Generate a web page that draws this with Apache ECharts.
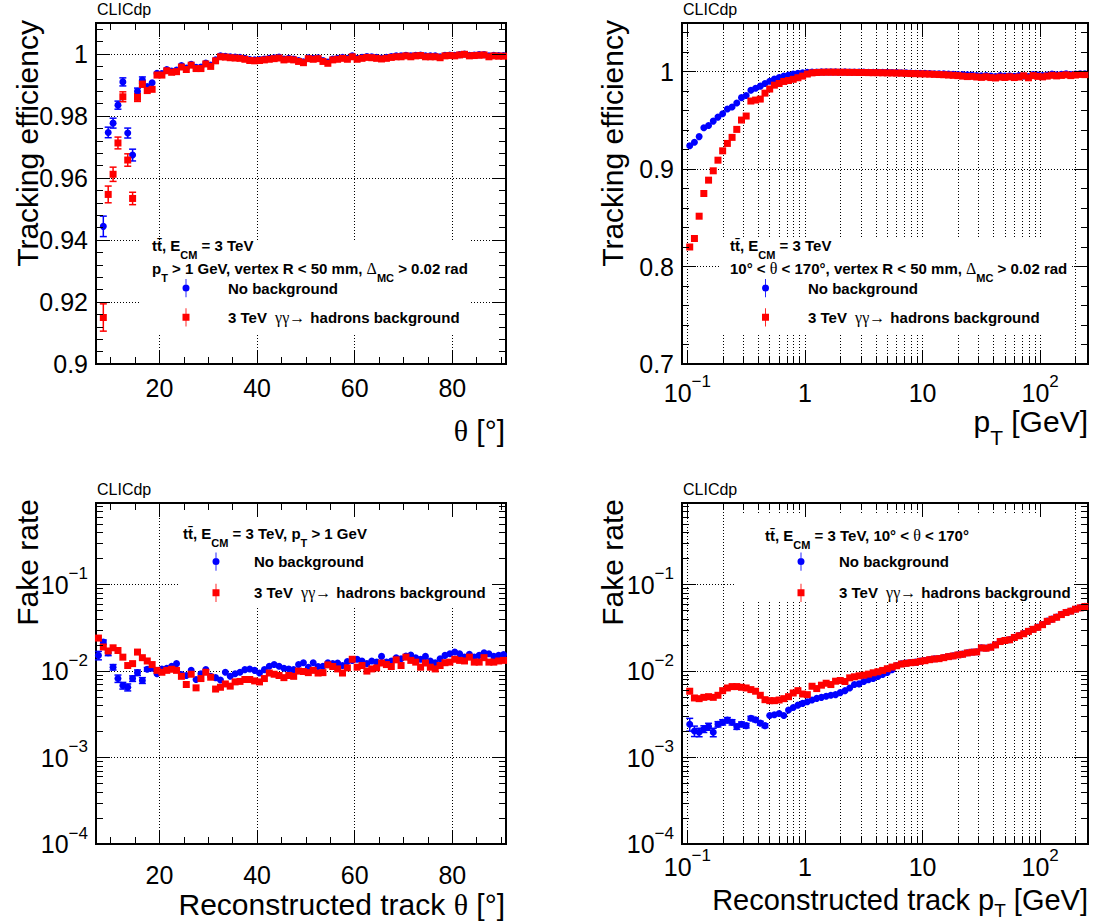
<!DOCTYPE html>
<html>
<head>
<meta charset="utf-8">
<script src="https://cdn.jsdelivr.net/npm/echarts@6/dist/echarts.min.js"></script>
<style>html,body{margin:0;padding:0;background:#fff;}#c{width:1095px;height:923px;}</style>
</head>
<body>
<div id="c"></div>
<script>
// ---------------- DATA ----------------
const NAME_NB = 'No background';
const NAME_BG = '3 TeV γγ→ hadrons background';

const thetaBins = [7.5,8.5,9.5,10.5,11.5,12.5,13.5,14.5,15.5,16.5,17.5,18.5,19.5,20.5,21.5,22.5,23.5,24.5,25.5,26.5,27.5,28.5,29.5,30.5,31.5,32.5,33.5,34.5,35.5,36.5,37.5,38.5,39.5,40.5,41.5,42.5,43.5,44.5,45.5,46.5,47.5,48.5,49.5,50.5,51.5,52.5,53.5,54.5,55.5,56.5,57.5,58.5,59.5,60.5,61.5,62.5,63.5,64.5,65.5,66.5,67.5,68.5,69.5,70.5,71.5,72.5,73.5,74.5,75.5,76.5,77.5,78.5,79.5,80.5,81.5,82.5,83.5,84.5,85.5,86.5,87.5,88.5,89.5,90.5];

const ptBins = [0.1047,0.1148,0.1259,0.1380,0.1514,0.1660,0.1820,0.1995,0.2188,0.2399,
0.2630,0.2884,0.3162,0.3467,0.3802,0.4169,0.4571,0.5012,0.5495,0.6026,
0.6607,0.7244,0.7943,0.8710,0.9550,1.047,1.148,1.259,1.380,1.514,
1.660,1.820,1.995,2.188,2.399,2.630,2.884,3.162,3.467,3.802,
4.169,4.571,5.012,5.495,6.026,6.607,7.244,7.943,8.710,9.550,
10.47,11.48,12.59,13.80,15.14,16.60,18.20,19.95,21.88,23.99,
26.30,28.84,31.62,34.67,38.02,41.69,45.71,50.12,54.95,60.26,
66.07,72.44,79.43,87.10,95.50,104.7,114.8,125.9,138.0,151.4,
166.0,182.0,199.5,218.8,239.9];

// Tracking efficiency vs theta
const effThetaNoBg = [null,
0.9444,0.9747,0.9777,0.9835,0.9910,0.9745,0.9674,0.9880,0.9916,0.9895,
0.9907,0.9938,0.9937,0.9950,0.9945,0.9948,0.9963,0.9955,0.9967,0.9957,
0.9958,0.9971,0.9964,0.9981,0.9994,0.9993,0.9991,0.9990,0.9989,0.9986,
0.9982,0.9981,0.9982,0.9984,0.9986,0.9988,0.9990,0.9984,0.9986,0.9984,
0.9979,0.9975,0.9988,0.9986,0.9988,0.9979,0.9974,0.9984,0.9986,0.9989,
0.9986,0.9994,0.9986,0.9989,0.9992,0.9991,0.9989,0.9987,0.9989,0.9992,
0.9994,0.9994,0.9996,0.9994,0.9996,0.9997,0.9994,0.9994,0.9994,0.9991,
0.9996,0.9997,0.9996,0.9998,1.0000,0.9996,0.9997,0.9998,0.9998,0.9994,
0.9996,0.9995,0.9995];
const effThetaBg = [null,
0.9150,0.9547,0.9612,0.9713,0.9862,0.9658,0.9534,0.9860,0.9903,0.9882,
0.9886,0.9932,0.9932,0.9946,0.9941,0.9943,0.9958,0.9950,0.9964,0.9953,
0.9953,0.9968,0.9960,0.9978,0.9991,0.9990,0.9988,0.9987,0.9986,0.9983,
0.9979,0.9978,0.9979,0.9981,0.9983,0.9985,0.9987,0.9981,0.9983,0.9981,
0.9976,0.9972,0.9985,0.9983,0.9985,0.9976,0.9970,0.9981,0.9983,0.9986,
0.9983,0.9991,0.9983,0.9986,0.9989,0.9988,0.9986,0.9984,0.9986,0.9989,
0.9991,0.9991,0.9994,0.9991,0.9994,0.9995,0.9991,0.9991,0.9991,0.9988,
0.9994,0.9995,0.9994,0.9997,0.9999,0.9994,0.9995,0.9996,0.9997,0.9991,
0.9994,0.9993,0.9993];
const effThetaNoBgErr = [0,0.0033,0.0017,0.0016,0.0013,0.0013,0.0016,0.0019,0.0010,0.0010];
const effThetaBgErr = [0,0.0044,0.0027,0.0023,0.0019,0.0016,0.0020,0.0020,0.0013,0.0010];

// Tracking efficiency vs pT
const effPtNoBg = [
0.9241,0.9276,0.9334,0.9424,0.9448,0.9493,0.9534,0.9569,0.9617,0.9638,
0.9679,0.9734,0.9755,0.9810,0.9831,0.9852,0.9879,0.9903,0.9924,0.9941,
0.9955,0.9966,0.9976,0.9983,0.9990,0.9993,0.9996,0.9997,0.9998,0.9998,
0.9998,0.9998,0.9997,0.9998,0.9997,0.9997,0.9996,0.9996,0.9995,0.9995,
0.9994,0.9993,0.9993,0.9992,0.9991,0.9990,0.9989,0.9986,0.9985,0.9984,
0.9983,0.9982,0.9980,0.9979,0.9978,0.9976,0.9974,0.9972,0.9970,0.9968,
0.9965,0.9962,0.9958,0.9962,0.9955,0.9950,0.9960,0.9955,0.9958,0.9953,
0.9960,0.9957,0.9950,0.9972,0.9965,0.9960,0.9967,0.9975,0.9968,0.9973,
0.9978,0.9970,0.9975,0.9980,0.9978];
const effPtBg = [
0.8201,0.8288,0.8517,0.8750,0.8887,0.8983,0.9092,0.9188,0.9264,0.9326,
0.9408,0.9504,0.9545,0.9699,0.9709,0.9719,0.9780,0.9822,0.9862,0.9879,
0.9900,0.9910,0.9922,0.9938,0.9955,0.9976,0.9988,0.9992,0.9994,0.9995,
0.9995,0.9995,0.9994,0.9994,0.9993,0.9993,0.9992,0.9992,0.9991,0.9990,
0.9990,0.9989,0.9988,0.9987,0.9986,0.9985,0.9983,0.9981,0.9980,0.9978,
0.9977,0.9975,0.9973,0.9971,0.9969,0.9966,0.9963,0.9960,0.9955,0.9950,
0.9952,0.9946,0.9942,0.9948,0.9940,0.9936,0.9945,0.9941,0.9948,0.9940,
0.9946,0.9958,0.9938,0.9960,0.9952,0.9947,0.9955,0.9963,0.9957,0.9962,
0.9968,0.9960,0.9966,0.9972,0.9970];

// Fake rate vs theta
const fakeThetaNoBg = [
0.0152,0.0217,0.0163,0.0111,0.0082,0.0068,0.0065,0.0082,0.0096,0.0078,
0.0105,0.0108,0.0093,0.0106,0.0108,0.0114,0.0122,0.0091,0.0089,0.0102,
0.0080,0.0093,0.0104,0.0087,0.0084,0.0079,0.0097,0.0087,0.0093,0.0097,
0.0104,0.0106,0.0102,0.0095,0.0104,0.0114,0.0119,0.0114,0.0108,0.0106,
0.0104,0.0119,0.0125,0.0111,0.0125,0.0113,0.0114,0.0125,0.0122,0.0124,
0.0116,0.0129,0.0133,0.0137,0.0131,0.0122,0.0131,0.0127,0.0148,0.0127,
0.0131,0.0143,0.0139,0.0149,0.0153,0.0143,0.0137,0.0148,0.0131,0.0125,
0.0139,0.0152,0.0159,0.0166,0.0159,0.0145,0.0156,0.0145,0.0152,0.0163,
0.0159,0.0148,0.0152,0.0155];
const fakeThetaBg = [
0.0241,0.0190,0.0171,0.0186,0.0173,0.0145,0.0116,0.0122,0.0166,0.0143,
0.0131,0.0119,0.0102,0.0097,0.0102,0.0105,0.0102,0.0087,0.0070,0.0092,
0.0064,0.0082,0.0097,0.0085,0.0062,0.0065,0.0071,0.0067,0.0075,0.0076,
0.0080,0.0080,0.0077,0.0075,0.0082,0.0095,0.0092,0.0089,0.0084,0.0089,
0.0087,0.0100,0.0099,0.0096,0.0102,0.0095,0.0096,0.0118,0.0113,0.0106,
0.0095,0.0109,0.0137,0.0111,0.0116,0.0100,0.0106,0.0109,0.0124,0.0119,
0.0113,0.0135,0.0116,0.0145,0.0133,0.0127,0.0111,0.0124,0.0111,0.0106,
0.0116,0.0125,0.0127,0.0137,0.0133,0.0131,0.0145,0.0127,0.0127,0.0143,
0.0127,0.0127,0.0131,0.0133];
const fakeThetaNoBgErr = [0.0017,0.0012,0.0012,0.0008,0.0008,0.0006,0.0006,0.0006,0.0007,0.0006,0.0005];

// Fake rate vs pT
const fakePtNoBg = [
0.00243,0.00203,0.00196,0.00214,0.00228,0.00196,0.00243,0.00256,0.00271,0.00256,
0.00228,0.00243,0.00234,0.00285,0.00273,0.00250,0.00234,0.00306,0.00312,0.00324,
0.00306,0.00354,0.00380,0.00404,0.00423,0.00443,0.00463,0.00484,0.00497,0.00511,
0.00525,0.00534,0.00564,0.00594,0.00638,0.00699,0.00712,0.00758,0.00793,0.00822,
0.00867,0.00914,0.00965,0.01036,0.01160,0.01215,0.01236,0.01258,0.01270,0.01305,
0.01328,0.01362,0.01388,0.01400,0.01438,0.01478,0.01505,0.01546,0.01573,0.01630,
0.01660,0.01676,0.01864,0.01846,0.01898,0.02020,0.02209,0.02271,0.02313,0.02462,
0.02578,0.02716,0.02894,0.03055,0.03224,0.03463,0.03783,0.03994,0.04215,0.04528,
0.04782,0.04957,0.05225,0.05418,0.05617];
const fakePtBg = [
0.00585,0.00489,0.00480,0.00497,0.00506,0.00497,0.00525,0.00594,0.00638,0.00662,
0.00662,0.00650,0.00638,0.00611,0.00585,0.00525,0.00467,0.00455,0.00455,0.00463,
0.00480,0.00506,0.00558,0.00594,0.00543,0.00534,0.00668,0.00628,0.00687,0.00724,
0.00699,0.00764,0.00778,0.00758,0.00836,0.00859,0.00882,0.00898,0.00923,0.00956,
0.00982,0.01018,0.01065,0.01113,0.01154,0.01207,0.01229,0.01251,0.01262,0.01297,
0.01320,0.01356,0.01380,0.01393,0.01430,0.01470,0.01497,0.01538,0.01565,0.01622,
0.01652,0.01667,0.01855,0.01837,0.01888,0.02010,0.02198,0.02260,0.02302,0.02450,
0.02565,0.02703,0.02880,0.03040,0.03208,0.03446,0.03764,0.03974,0.04194,0.04506,
0.04758,0.04932,0.05199,0.05391,0.05589];
const fakePtNoBgErr = [0.00041,0.00028,0.00022,0.00019,0.00021,0.00022,0.00017,0.00018,0.00019,0.00018,0.00016,0.00015,0.00014,0.00015,0.00014,0.00013,0.00012];

// Ticks and labels
const thetaMajor = [20,40,60,80];
const thetaLabels = ['20','40','60','80'];
const thetaMinor = [10,15,25,30,35,45,50,55,65,70,75,85,90];

const effThetaMajor = [0.9,0.92,0.94,0.96,0.98,1.0];
const effThetaLabels = ['0.9','0.92','0.94','0.96','0.98','1'];
const effThetaMinor = [0.904,0.908,0.912,0.916,0.924,0.928,0.932,0.936,0.944,0.948,0.952,0.956,0.964,0.968,0.972,0.976,0.984,0.988,0.992,0.996,1.004,1.008];

const effPtMajor = [0.7,0.8,0.9,1.0];
const effPtLabels = ['0.7','0.8','0.9','1'];
const effPtMinor = [0.72,0.74,0.76,0.78,0.82,0.84,0.86,0.88,0.92,0.94,0.96,0.98,1.02,1.04];

const ptMajor = [0.1,1,10,100];
const ptLabels = ['{b|10}{s|−1}','{b|1}','{b|10}','{b|10}{s|2}'];
const ptMinor = [0.2,0.3,0.4,0.5,0.6,0.7,0.8,0.9,2,3,4,5,6,7,8,9,20,30,40,50,60,70,80,90,200];
const ptGrid = [0.1,0.2,0.3,0.4,0.5,0.6,0.7,0.8,0.9,1,2,3,4,5,6,7,8,9,10,20,30,40,50,60,70,80,90,100,200];

const fakeMajor = [0.0001,0.001,0.01,0.1];
const fakeLabels = ['{b|10}{s|−4}','{b|10}{s|−3}','{b|10}{s|−2}','{b|10}{s|−1}'];
const fakeMinor = [0.0002,0.0003,0.0004,0.0005,0.0006,0.0007,0.0008,0.0009,0.002,0.003,0.004,0.005,0.006,0.007,0.008,0.009,0.02,0.03,0.04,0.05,0.06,0.07,0.08,0.09,0.2,0.3,0.4,0.5,0.6,0.7,0.8];

// ---------------- STYLE HELPERS ----------------
const SANS = '"Liberation Sans", Arial, Helvetica, sans-serif';
const SERIF = '"Liberation Serif", "DejaVu Serif", serif';
const BLUE = '#0000ff', RED = '#ff0000';
const TICK = {color:'#000', width:1};
const GRIDLINE = {color:'#000', width:1, type:[1,2]};
const LBL = 25;

function xLinLabel(margin){ return {fontFamily:SANS, fontSize:LBL, lineHeight:25, color:'#000', margin:margin}; }
function yLinLabel(margin){ return {fontFamily:SANS, fontSize:LBL, color:'#000', margin:margin}; }
function xLogLabel(margin){ return {fontFamily:SANS, fontSize:LBL, color:'#000', margin:margin,
  rich:{ b:{fontFamily:SANS, fontSize:LBL, lineHeight:24, color:'#000', padding:[7,0,0,0], verticalAlign:'top'},
         s:{fontFamily:SANS, fontSize:17, lineHeight:17, color:'#000', verticalAlign:'top'} } }; }
function yLogLabel(margin){ return {fontFamily:SANS, fontSize:LBL, color:'#000', margin:margin,
  rich:{ b:{fontFamily:SANS, fontSize:LBL, color:'#000', padding:[7,0,7,0]},
         s:{fontFamily:SANS, fontSize:17, color:'#000', verticalAlign:'top'} } }; }

function axesFor(dim, gi, type, min, max, major, minor, gridVals, labels, labelStyle){
  const pos = dim === 'x' ? ['bottom','top'] : ['left','right'];
  const fmt = function(v){
    for (let i = 0; i < major.length; i++) if (Math.abs(v - major[i]) <= Math.abs(major[i]) * 1e-6) return labels[i];
    return '';
  };
  function base(p, z){
    const a = {gridIndex:gi, type:type, min:min, max:max, position:p, silent:true, z:z,
      axisLine:{show:false, onZero:false}, splitLine:{show:false}, axisLabel:{show:false}, axisTick:{show:false}, splitArea:{show:false}, minorTick:{show:false}, minorSplitLine:{show:false}};
    if (type === 'log') a.logBase = 10;
    return a;
  }
  const a0 = base(pos[0], 0);
  a0.axisTick = {show:false, customValues:gridVals};
  a0.splitLine = {show:true, customValues:gridVals, lineStyle:GRIDLINE};
  const a1 = base(pos[0], 5);
  a1.axisTick = {show:true, inside:true, length:14, customValues:major, lineStyle:TICK};
  a1.axisLabel = Object.assign({show:true, customValues:major, formatter:fmt}, labelStyle);
  const a2 = base(pos[0], 5);
  a2.axisTick = {show:true, inside:true, length:7, customValues:minor, lineStyle:TICK};
  const a3 = base(pos[1], 5);
  a3.axisTick = {show:true, inside:true, length:14, customValues:major, lineStyle:TICK};
  const a4 = base(pos[1], 5);
  a4.axisTick = {show:true, inside:true, length:7, customValues:minor, lineStyle:TICK};
  return [a0, a1, a2, a3, a4];
}

const xAxes = [].concat(
  axesFor('x', 0, 'value', 7, 91, thetaMajor, thetaMinor, thetaMajor, thetaLabels, xLinLabel(11)),
  axesFor('x', 1, 'log', 0.09, 255, ptMajor, ptMinor, ptGrid, ptLabels, xLogLabel(9)),
  axesFor('x', 2, 'value', 7, 91, thetaMajor, thetaMinor, thetaMajor, thetaLabels, xLinLabel(18)),
  axesFor('x', 3, 'log', 0.09, 255, ptMajor, ptMinor, ptGrid, ptLabels, xLogLabel(3))
);
const yAxes = [].concat(
  axesFor('y', 0, 'value', 0.9, 1.01, effThetaMajor, effThetaMinor, effThetaMajor, effThetaLabels, yLinLabel(8)),
  axesFor('y', 1, 'value', 0.7, 1.05, effPtMajor, effPtMinor, effPtMajor, effPtLabels, yLinLabel(8)),
  axesFor('y', 2, 'log', 0.0001, 0.88, fakeMajor, fakeMinor, fakeMajor, fakeLabels, yLogLabel(8)),
  axesFor('y', 3, 'log', 0.0001, 0.88, fakeMajor, fakeMinor, fakeMajor, fakeLabels, yLogLabel(8))
);

function pts(xs, ys){ const o = []; for (let i = 0; i < xs.length; i++) if (ys[i] != null) o.push([xs[i], ys[i]]); return o; }
function errs(xs, ys, es){ const o = []; for (let i = 0; i < es.length; i++) if (es[i] && ys[i] != null) o.push([xs[i], ys[i] - es[i], ys[i] + es[i]]); return o; }

function errSeries(ai, data, color){
  return {type:'custom', xAxisIndex:ai, yAxisIndex:ai, data:data, silent:true, z:2, animation:false,
    encode:{x:0, y:[1,2]},
    renderItem:function(params, api){
      const x = api.value(0);
      const a = api.coord([x, api.value(1)]);
      const b = api.coord([x, api.value(2)]);
      const w = 3.5, st = {stroke:color, lineWidth:1.5};
      return {type:'group', children:[
        {type:'line', shape:{x1:a[0], y1:a[1], x2:b[0], y2:b[1]}, style:st},
        {type:'line', shape:{x1:a[0]-w, y1:a[1], x2:a[0]+w, y2:a[1]}, style:st},
        {type:'line', shape:{x1:b[0]-w, y1:b[1], x2:b[0]+w, y2:b[1]}, style:st}
      ]};
    }};
}
function scat(ai, name, data, color, symbol){
  return {type:'scatter', name:name, xAxisIndex:ai, yAxisIndex:ai, data:data, symbol:symbol, symbolSize:7,
    itemStyle:{color:color, opacity:1}, silent:true, z:2, animation:false, emphasis:{disabled:true}};
}

const panels = [
  {xs:thetaBins, nb:effThetaNoBg, bg:effThetaBg, nbErr:effThetaNoBgErr, bgErr:effThetaBgErr},
  {xs:ptBins, nb:effPtNoBg, bg:effPtBg, nbErr:[], bgErr:[]},
  {xs:thetaBins, nb:fakeThetaNoBg, bg:fakeThetaBg, nbErr:fakeThetaNoBgErr, bgErr:[]},
  {xs:ptBins, nb:fakePtNoBg, bg:fakePtBg, nbErr:fakePtNoBgErr, bgErr:[]}
];
const series = [];
panels.forEach(function(p, g){
  const ai = g * 5 + 1;
  series.push(errSeries(ai, errs(p.xs, p.nb, p.nbErr), BLUE));
  series.push(scat(ai, NAME_NB, pts(p.xs, p.nb), BLUE, 'circle'));
  series.push(errSeries(ai, errs(p.xs, p.bg, p.bgErr), RED));
  series.push(scat(ai, NAME_BG, pts(p.xs, p.bg), RED, 'rect'));
});

const ICON_C = 'path://M4.4,0H5.6V26H4.4Z M0,13A5,5 0 1 1 10,13A5,5 0 1 1 0,13Z';
const ICON_S = 'path://M4.4,0H5.6V26H4.4Z M0,8H10V18H0Z';
function mkLegend(left, top, gap, pad){
  return {show:true, orient:'vertical', left:left, top:top, itemGap:gap, itemWidth:7, itemHeight:19, padding:0,
    selectedMode:false, z:4,
    data:[{name:NAME_NB, icon:ICON_C}, {name:NAME_BG, icon:ICON_S}],
    formatter:function(n){ return n === NAME_BG ? '3 TeV {g|γγ→} hadrons background' : n; },
    textStyle:{fontFamily:SANS, fontWeight:'bold', fontSize:15, color:'#000', padding:[0,0,0,pad],
      rich:{g:{fontFamily:SERIF, fontWeight:'normal', fontSize:16, color:'#000', padding:[0,1,0,4]}}}};
}

const headRich = {
  b:{fontFamily:SANS, fontWeight:'bold', fontSize:15, fill:'#000', lineHeight:18},
  s:{fontFamily:SANS, fontWeight:'bold', fontSize:11, fill:'#000', lineHeight:11, padding:[19,0,0,0]},
  g:{fontFamily:SERIF, fontWeight:'normal', fontSize:16, fill:'#000', lineHeight:18}
};
const titleRich = {
  m:{fontFamily:SANS, fontSize:30, fill:'#000', lineHeight:28, verticalAlign:'top'},
  g:{fontFamily:SERIF, fontSize:30, fill:'#000', lineHeight:28, verticalAlign:'top'},
  s:{fontFamily:SANS, fontSize:21, fill:'#000', lineHeight:19, padding:[20,0,0,0], verticalAlign:'top'}
};
const titleRichBR = {
  m:{fontFamily:SANS, fontSize:29, fill:'#000', lineHeight:28, verticalAlign:'top'},
  s:{fontFamily:SANS, fontSize:19, fill:'#000', lineHeight:17, padding:[16,0,0,0], verticalAlign:'top'}
};
function txt(x, y, text, o){
  o = o || {};
  return {type:'text', x:x, y:y, rotation:o.rot || 0, z:10, silent:true,
    style:{text:text, fill:'#000', fontFamily:o.family || SANS, fontSize:o.size || 15, fontWeight:o.weight || 'normal',
      lineHeight:o.lh, align:o.align || 'left', verticalAlign:o.va || 'middle', rich:o.rich}};
}
function box(x, y, w, h){ return {type:'rect', shape:{x:x, y:y, width:w, height:h}, style:{fill:'#fff'}, z:1, silent:true}; }

const H1 = '{b|tt̄, E}{s|CM}{b| = 3 TeV}';
const graphics = [
  box(140, 240, 330, 93), box(720, 238, 350, 95), box(178, 505, 322, 103), box(735, 515, 340, 85),
  txt(97, 9, 'CLICdp', {size:16}), txt(683, 9, 'CLICdp', {size:16}), txt(97, 489, 'CLICdp', {size:16}), txt(683, 489, 'CLICdp', {size:16}),
  txt(152, 245, H1, {rich:headRich}),
  txt(152, 268, '{b|p}{s|T}{b| > 1 GeV, vertex R < 50 mm, }{g|Δ}{s|MC}{b| > 0.02 rad}', {rich:headRich}),
  txt(730, 245, H1, {rich:headRich}),
  txt(730, 268, '{b|10° < }{g|θ}{b| < 170°, vertex R < 50 mm, }{g|Δ}{s|MC}{b| > 0.02 rad}', {rich:headRich}),
  txt(183, 533, '{b|tt̄, E}{s|CM}{b| = 3 TeV, p}{s|T}{b| > 1 GeV}', {rich:headRich}),
  txt(765, 535, '{b|tt̄, E}{s|CM}{b| = 3 TeV, 10° < }{g|θ}{b| < 170°}', {rich:headRich}),
  txt(505, 415, '{g|θ}{m| [°]}', {size:30, align:'right', va:'top', rich:titleRich}),
  txt(1088, 406.5, '{m|p}{s|T}{m| [GeV]}', {size:30, align:'right', va:'top', rich:titleRich}),
  txt(505, 889, '{m|Reconstructed track }{g|θ}{m| [°]}', {size:30, align:'right', va:'top', rich:titleRich}),
  txt(1088, 885, '{m|Reconstructed track p}{s|T}{m| [GeV]}', {size:29, align:'right', va:'top', rich:titleRichBR}),
  txt(27, 20, 'Tracking efficiency', {size:30, align:'right', rot:Math.PI/2}),
  txt(612, 20, 'Tracking efficiency', {size:30, align:'right', rot:Math.PI/2}),
  txt(27, 499, 'Fake rate', {size:30, align:'right', rot:Math.PI/2}),
  txt(612, 499, 'Fake rate', {size:30, align:'right', rot:Math.PI/2})
];

const grids = [
  {left:96, top:23, width:410, height:341},
  {left:682, top:23, width:406, height:341},
  {left:96, top:503, width:410, height:341},
  {left:682, top:503, width:406, height:341}
].map(function(g){ return Object.assign({show:true, borderColor:'#000', borderWidth:2, backgroundColor:'transparent', outerBoundsMode:'none'}, g); });

const chart = echarts.init(document.getElementById('c'), null, {renderer:'svg', width:1095, height:923});
chart.setOption({
  animation:false,
  backgroundColor:'#fff',
  textStyle:{fontFamily:SANS},
  grid:grids,
  xAxis:xAxes,
  yAxis:yAxes,
  legend:[mkLegend(182.5, 279, 11, 33.5), mkLegend(762, 279, 11, 34), mkLegend(212.5, 552.5, 13, 29.5), mkLegend(797.5, 552.5, 13, 29.5)],
  graphic:{elements:graphics},
  series:series
});
</script>
</body>
</html>
